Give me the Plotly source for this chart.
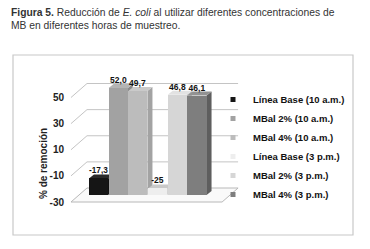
import plotly.graph_objects as go

# ---- data ----
series = ["Línea Base (10 a.m.)", "MBal 2% (10 a.m.)", "MBal 4% (10 a.m.)",
          "Línea Base (3 p.m.)", "MBal 2% (3 p.m.)", "MBal 4% (3 p.m.)"]
values = [-17.3, 52.0, 49.7, -25, 46.8, 46.1]
value_labels = ["-17,3", "52,0", "49,7", "-25", "46,8", "46,1"]
y_ticks = [-30, -10, 10, 30, 50]
y_tick_labels = ["-30", "-10", "10", "30", "50"]

# ---- styles ----
front_colors = ["#151515", "#a2a2a2", "#bcbcbc", "#eeeeee", "#d6d6d6", "#7e7e7e"]
top_colors = ["#2a2a2a", "#b4b4b4", "#cacaca", "#c9c9c9", "#e2e2e2", "#929292"]
side_colors = ["#050505", "#8a8a8a", "#a3a3a3", "#cfcfcf", "#bababa", "#5e5e5e"]
FONT = "Liberation Sans Narrow, Arial Narrow, Liberation Sans, Arial, sans-serif"

W, H = 370, 249
L, R, T, B = 68, 126, 80, 44
BASE = y_ticks[0]
XR = [-1.548, 7.386]
YR = [-37.66, 58.05]
px_x = (W - L - R) / (XR[1] - XR[0])
px_y = (H - T - B) / (YR[1] - YR[0])
DX = 8 / px_x      # wall depth (half)
DY = 7 / px_y
BDX = 5 / px_x     # bar depth
BDY = 4 / px_y
BW = 0.97
xl, xr = -0.99, 6.68

fig = go.Figure()
shapes = []

# back wall gridlines + left wall diagonals
for v in y_ticks[1:]:
    shapes.append(dict(type="line", xref="x", yref="y", x0=xl + DX, x1=xr + DX,
                       y0=v + DY, y1=v + DY, line=dict(color="#c4c4c4", width=1), layer="below"))
    shapes.append(dict(type="line", xref="x", yref="y", x0=xl - DX, x1=xl + DX,
                       y0=v - DY, y1=v + DY, line=dict(color="#c4c4c4", width=1), layer="below"))
# floor
floor = (f"M{xl - DX},{BASE - DY} L{xr - DX},{BASE - DY} "
         f"L{xr + DX},{BASE + DY} L{xl + DX},{BASE + DY} Z")
shapes.append(dict(type="path", xref="x", yref="y", path=floor, fillcolor="#fafafa",
                   line=dict(color="#b8b8b8", width=1), layer="below"))

for i, (name, v, lab) in enumerate(zip(series, values, value_labels)):
    u = i
    fig.add_trace(go.Bar(x=[u], y=[v - BASE], base=[BASE], width=BW,
                         marker=dict(color=front_colors[i], line=dict(width=0)),
                         text=[lab], textposition="outside", cliponaxis=False,
                         textfont=dict(family=FONT, size=8.5, color="#111111", weight="bold"),
                         showlegend=False, legendgroup=name, hoverinfo="skip"))
    fig.add_trace(go.Scatter(x=[None], y=[None], mode="markers", name=name, legendgroup=name,
                             marker=dict(symbol="square", size=5, color=front_colors[i])))
    a, b = u - BW / 2, u + BW / 2
    side = (f"M{b},{BASE} L{b + BDX},{BASE + BDY} L{b + BDX},{v + BDY} L{b},{v} Z")
    top = (f"M{a},{v} L{a + BDX},{v + BDY} L{b + BDX},{v + BDY} L{b},{v} Z")
    shapes.append(dict(type="path", xref="x", yref="y", path=side, fillcolor=side_colors[i],
                       line=dict(width=0), layer="below"))
    shapes.append(dict(type="path", xref="x", yref="y", path=top, fillcolor=top_colors[i],
                       line=dict(width=0), layer="below"))

# invisible trace so the front-plane tick axis is drawn
fig.add_trace(go.Scatter(x=[None], y=[None], yaxis="y2", showlegend=False, hoverinfo="skip"))

# outer frame
def pxp(px):
    return (px - L) / (W - L - R)
def pyp(py):
    return (H - B - py) / (H - T - B)

shapes.append(dict(type="rect", xref="paper", yref="paper", x0=pxp(13), x1=pxp(353),
                   y0=pyp(235), y1=pyp(55), line=dict(color="#c8c8c8", width=1.2), layer="below"))

fig.update_layout(
    width=W, height=H, margin=dict(l=L, r=R, t=T, b=B, autoexpand=False),
    paper_bgcolor="white", plot_bgcolor="rgba(0,0,0,0)",
    shapes=shapes, bargap=0, hovermode=False,
    font=dict(family=FONT, color="#222222"),
    xaxis=dict(range=XR, visible=False, fixedrange=True),
    yaxis=dict(range=YR, visible=False, fixedrange=True),
    yaxis2=dict(range=[YR[0] + DY, YR[1] + DY], overlaying="y", side="left",
                tickvals=y_ticks, ticktext=y_tick_labels, showgrid=False,
                zeroline=False, showline=False, ticks="outside", ticklen=1,
                tickcolor="rgba(0,0,0,0)", fixedrange=True,
                tickfont=dict(family=FONT, size=10, color="#222222", weight="bold")),
    legend=dict(xref="container", yref="container", x=213 / W, xanchor="left",
                y=1 - 85 / H, yanchor="top",
                font=dict(family=FONT, size=9.5, color="#111111", weight="bold"),
                itemwidth=30, tracegroupgap=0, bgcolor="rgba(0,0,0,0)"),
    annotations=[
        dict(text="<b>Figura 5.</b> Reducción de <i>E. coli</i> al utilizar diferentes concentraciones de<br>MB en diferentes horas de muestreo.",
             xref="paper", yref="paper", x=pxp(9), y=pyp(5), xanchor="left", yanchor="top",
             align="left", showarrow=False, font=dict(family=FONT, size=10.3, color="#333333")),
        dict(text="<b>% de remoción</b>", xref="paper", yref="paper", x=pxp(43), y=pyp(164),
             xanchor="center", yanchor="middle",
             textangle=-90, showarrow=False, font=dict(family=FONT, size=10, color="#222222")),
    ],
)
fig.write_html("out.html", config={"displayModeBar": False},
               post_script="document.body.style.margin='0';")
